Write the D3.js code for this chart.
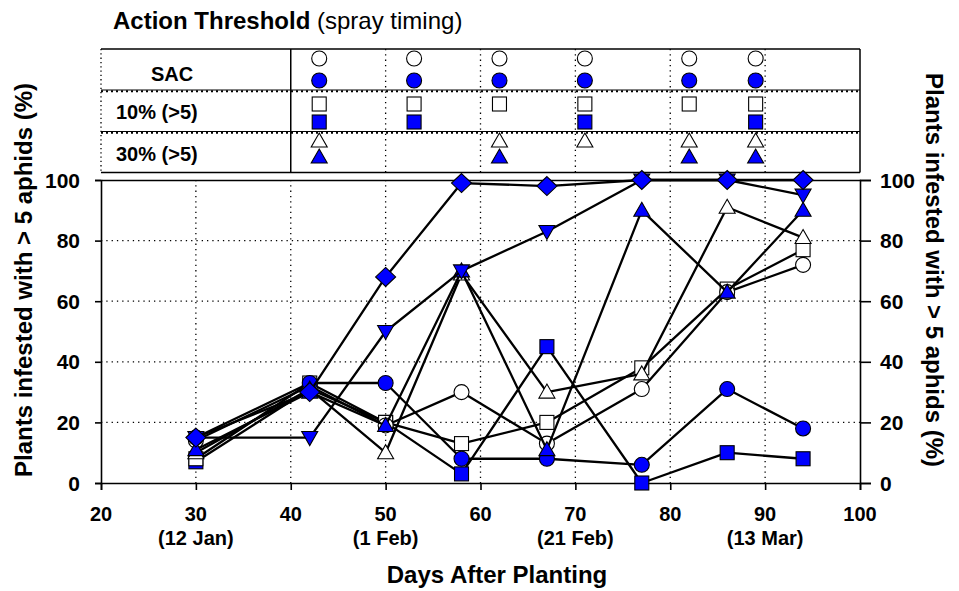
<!DOCTYPE html>
<html>
<head>
<meta charset="utf-8">
<script src="https://cdn.jsdelivr.net/npm/d3@7/dist/d3.min.js"></script>
<style>
  html, body { margin: 0; padding: 0; background: #fff; }
  svg { display: block; font-family: "Liberation Sans", Arial, sans-serif; }
</style>
</head>
<body>
<svg id="chart" width="959" height="591"></svg>
<script>
// ---------------- DATA ----------------
const days = [30, 42, 50, 58, 67, 77, 86, 94];
const sacUntreated   = [14, 32, 19, 30, 13, 31, 63, 72];
const sacTreated     = [15, 33, 33, 8, 8, 6, 31, 18];
const p10Untreated   = [8, 33, 20, 13, 20, 38, 64, 77];
const p10Treated     = [7, 31, 20, 3, 45, 0, 10, 8];
const p30Untreated   = [10, 31, 10, 69, 30, 36, 91, 81];
const p30Treated     = [11, 30, 19, 70, 11, 90, 63, 90];
const invTriSeries   = [15, 15, 50, 70, 83, 100, 100, 95];
const diamondSeries  = [15, 30, 68, 99, 98, 100, 100, 100];

// spray timings (days after planting) per action threshold
const spraySacUntreated = [43, 53, 62, 71, 82, 89];
const spraySacTreated   = [43, 53, 62, 71, 82, 89];
const spray10Untreated  = [43, 53, 62, 71, 82, 89];
const spray10Treated    = [43, 53, 71, 89];
const spray30Untreated  = [43, 62, 71, 82, 89];
const spray30Treated    = [43, 62, 82, 89];

const rowLabels = ["SAC", "10% (>5)", "30% (>5)"];
const xTicks = [20, 30, 40, 50, 60, 70, 80, 90, 100];
const yTicks = [0, 20, 40, 60, 80, 100];
const dateTicks = [30, 50, 70, 90];
const dateLabels = ["(12 Jan)", "(1 Feb)", "(21 Feb)", "(13 Mar)"];

// ---------------- SETUP ----------------
const BLUE = "#0000ff";
const svg = d3.select("#chart");
const x = d3.scaleLinear().domain([20, 100]).range([101, 860]);
const y = d3.scaleLinear().domain([0, 100]).range([483, 180]);

function drawMarker(g, type, cx, cy, filled) {
  const fill = filled ? BLUE : "#fff";
  const common = s => s.attr("fill", fill).attr("stroke", "#000").attr("stroke-width", 1.1);
  if (type === "circle") {
    common(g.append("circle").attr("cx", cx).attr("cy", cy).attr("r", 7.5));
  } else if (type === "square") {
    common(g.append("rect").attr("x", cx - 7).attr("y", cy - 7).attr("width", 14).attr("height", 14));
  } else if (type === "triUp") {
    common(g.append("path").attr("d", `M${cx},${cy-8}L${cx+8},${cy+6}L${cx-8},${cy+6}Z`));
  } else if (type === "triDown") {
    common(g.append("path").attr("d", `M${cx-8},${cy-6}L${cx+8},${cy-6}L${cx},${cy+8}Z`));
  } else if (type === "diamond") {
    common(g.append("path").attr("d", `M${cx},${cy-9.5}L${cx+10},${cy}L${cx},${cy+9.5}L${cx-10},${cy}Z`));
  }
}

// ---------------- TITLE ----------------
const title = svg.append("text").attr("x", 113).attr("y", 29).attr("font-size", 24);
title.append("tspan").attr("font-weight", "bold").text("Action Threshold");
title.append("tspan").text(" (spray timing)");

// ---------------- TOP PANEL ----------------
const pTop = 49, pDiv1 = 90, pDiv2 = 131.5, pBot = 172.5;
const panel = svg.append("g");
// vertical dotted grid in panel
[50, 60, 70, 80, 90].forEach(d => {
  panel.append("line").attr("x1", x(d)).attr("x2", x(d)).attr("y1", pTop).attr("y2", pBot)
    .attr("stroke", "#000").attr("stroke-width", 1.3).attr("stroke-dasharray", "1.3,4");
});
panel.append("line").attr("x1", x(20)).attr("x2", x(20)).attr("y1", pTop).attr("y2", pBot)
  .attr("stroke", "#000").attr("stroke-width", 1.3).attr("stroke-dasharray", "1.3,3");
// row dividers (solid + dotted)
[pDiv1, pDiv2].forEach(yy => {
  panel.append("line").attr("x1", x(20)).attr("x2", x(100)).attr("y1", yy).attr("y2", yy)
    .attr("stroke", "#000").attr("stroke-width", 1);
  panel.append("line").attr("x1", x(20)).attr("x2", x(100)).attr("y1", yy + 1.2).attr("y2", yy + 1.2)
    .attr("stroke", "#000").attr("stroke-width", 2).attr("stroke-dasharray", "2,3");
});
panel.append("line").attr("x1", x(20)).attr("x2", x(100)).attr("y1", pTop).attr("y2", pTop)
  .attr("stroke", "#000").attr("stroke-width", 1.5);
panel.append("line").attr("x1", x(20)).attr("x2", x(100)).attr("y1", pBot).attr("y2", pBot)
  .attr("stroke", "#000").attr("stroke-width", 1.5);
panel.append("line").attr("x1", x(100)).attr("x2", x(100)).attr("y1", pTop).attr("y2", pBot)
  .attr("stroke", "#000").attr("stroke-width", 1.5);
panel.append("line").attr("x1", x(40)).attr("x2", x(40)).attr("y1", pTop).attr("y2", pBot)
  .attr("stroke", "#000").attr("stroke-width", 1.5);
// row labels
panel.append("text").attr("x", 172).attr("y", 81).attr("text-anchor", "middle")
  .attr("font-size", 20).attr("font-weight", "bold").text(rowLabels[0]);
panel.append("text").attr("x", 116).attr("y", 119)
  .attr("font-size", 20).attr("font-weight", "bold").text(rowLabels[1]);
panel.append("text").attr("x", 116).attr("y", 161)
  .attr("font-size", 20).attr("font-weight", "bold").text(rowLabels[2]);
// spray markers
const sprayRows = [
  {days: spraySacUntreated, type: "circle", filled: false, cy: 58.5},
  {days: spraySacTreated,   type: "circle", filled: true,  cy: 80.5},
  {days: spray10Untreated,  type: "square", filled: false, cy: 104},
  {days: spray10Treated,    type: "square", filled: true,  cy: 122},
  {days: spray30Untreated,  type: "triUp",  filled: false, cy: 141},
  {days: spray30Treated,    type: "triUp",  filled: true,  cy: 157}
];
sprayRows.forEach(r => r.days.forEach(d => drawMarker(panel, r.type, x(d), r.cy, r.filled)));

// ---------------- MAIN PLOT ----------------
const plot = svg.append("g");
// grid
[20, 40, 60, 80].forEach(v => {
  plot.append("line").attr("x1", x(20)).attr("x2", x(100)).attr("y1", y(v)).attr("y2", y(v))
    .attr("stroke", "#000").attr("stroke-width", 1.3).attr("stroke-dasharray", "1.3,4");
});
[30, 40, 50, 60, 70, 80, 90].forEach(d => {
  plot.append("line").attr("x1", x(d)).attr("x2", x(d)).attr("y1", y(100)).attr("y2", y(0))
    .attr("stroke", "#000").attr("stroke-width", 1.3).attr("stroke-dasharray", "1.3,4");
});

// axes
const axB = d3.axisBottom(x).tickValues(xTicks).tickSize(7).tickFormat("");
const axL = d3.axisLeft(y).tickValues(yTicks).tickSize(6).tickFormat("");
const axR = d3.axisRight(y).tickValues(yTicks).tickSize(11).tickFormat("");
const axT = d3.axisTop(x).tickValues([]).tickSize(0);
[
  plot.append("g").attr("transform", `translate(0,${y(0)})`).call(axB),
  plot.append("g").attr("transform", `translate(${x(20)},0)`).call(axL),
  plot.append("g").attr("transform", `translate(${x(100)},0)`).call(axR),
  plot.append("g").attr("transform", `translate(0,${y(100)})`).call(axT)
].forEach(g => {
  g.selectAll("path").attr("stroke", "#000").attr("stroke-width", 1.6);
  g.selectAll("line").attr("stroke", "#000").attr("stroke-width", 1.6);
});

// tick labels
xTicks.forEach(d => {
  plot.append("text").attr("x", x(d)).attr("y", 521).attr("text-anchor", "middle")
    .attr("font-size", 20).attr("font-weight", "bold").text(d);
});
dateTicks.forEach((d, i) => {
  plot.append("text").attr("x", x(d)).attr("y", 545).attr("text-anchor", "middle")
    .attr("font-size", 20).attr("font-weight", "bold").text(dateLabels[i]);
});
yTicks.forEach(v => {
  plot.append("text").attr("x", 80).attr("y", y(v)).attr("dy", "0.36em").attr("text-anchor", "end")
    .attr("font-size", 21).attr("font-weight", "bold").text(v);
  plot.append("text").attr("x", 880).attr("y", y(v)).attr("dy", "0.36em")
    .attr("font-size", 21).attr("font-weight", "bold").text(v);
});

// axis titles
svg.append("text").attr("x", 497).attr("y", 583).attr("text-anchor", "middle")
  .attr("font-size", 24).attr("font-weight", "bold").text("Days After Planting");
svg.append("text").attr("transform", "translate(32,280) rotate(-90)").attr("text-anchor", "middle")
  .attr("font-size", 24).attr("font-weight", "bold").text("Plants infested with > 5 aphids (%)");
svg.append("text").attr("transform", "translate(926,270) rotate(90)").attr("text-anchor", "middle")
  .attr("font-size", 24).attr("font-weight", "bold").text("Plants infested with > 5 aphids (%)");

// series
const series = [
  {vals: p10Treated,    type: "square",  filled: true},
  {vals: p10Untreated,  type: "square",  filled: false},
  {vals: sacUntreated,  type: "circle",  filled: false},
  {vals: sacTreated,    type: "circle",  filled: true},
  {vals: p30Untreated,  type: "triUp",   filled: false},
  {vals: p30Treated,    type: "triUp",   filled: true},
  {vals: invTriSeries,  type: "triDown", filled: true},
  {vals: diamondSeries, type: "diamond", filled: true}
];
const line = d3.line().x((d, i) => x(days[i])).y(d => y(d));
series.forEach(s => {
  const g = plot.append("g");
  g.append("path").attr("d", line(s.vals)).attr("fill", "none")
    .attr("stroke", "#000").attr("stroke-width", 2.3).attr("stroke-linejoin", "round");
  s.vals.forEach((v, i) => drawMarker(g, s.type, x(days[i]), y(v), s.filled));
});
</script>
</body>
</html>
